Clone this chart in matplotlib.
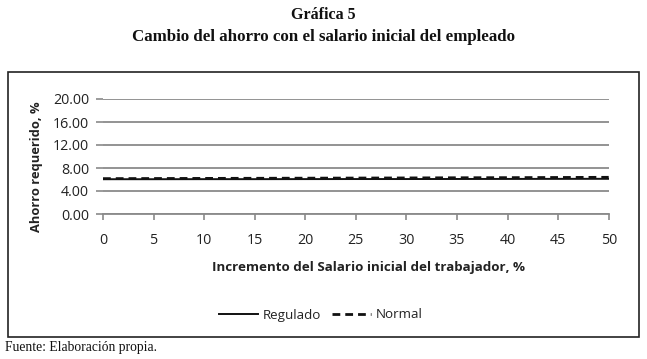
import matplotlib
matplotlib.use("Agg")
import matplotlib.pyplot as plt
from matplotlib.patches import Rectangle
from matplotlib.lines import Line2D

W, H = 647, 359
x_vals = [0, 5, 10, 15, 20, 25, 30, 35, 40, 45, 50]
regulado = [6.05, 6.05, 6.06, 6.06, 6.07, 6.08, 6.08, 6.09, 6.10, 6.11, 6.12]
normal = [6.15, 6.17, 6.19, 6.21, 6.23, 6.25, 6.27, 6.30, 6.32, 6.35, 6.38]
y_ticks = [0, 4, 8, 12, 16, 20]
x_ticks = [0, 5, 10, 15, 20, 25, 30, 35, 40, 45, 50]

title1 = "Gráfica 5"
title2 = "Cambio del ahorro con el salario inicial del empleado"
ylabel = "Ahorro requerido, %"
xlabel = "Incremento del Salario inicial del trabajador, %"
source = "Fuente: Elaboración propia."

sans = "Open Sans"
serif = "Liberation Serif"

fig = plt.figure(figsize=(W / 100, H / 100), dpi=100)

def fx(px):
    return px / W

def fy(py):
    return 1 - py / H

# outer box
fig.patches.append(Rectangle((fx(8), fy(337)), fx(639) - fx(8), fy(72) - fy(337),
                             transform=fig.transFigure, fill=False, edgecolor="#222222",
                             linewidth=1.2))

ax = fig.add_axes([fx(103), fy(214), fx(608.7) - fx(103), fy(99) - fy(214)])
ax.set_xlim(0, 50)
ax.set_ylim(0, 20)
for s in ["top", "right", "left"]:
    ax.spines[s].set_visible(False)
ax.spines["bottom"].set_color("#8a8a8a")
ax.spines["bottom"].set_linewidth(1.3)
ax.set_yticks(y_ticks)
ax.set_yticklabels([f"{v:.2f}" for v in y_ticks])
ax.set_xticks(x_ticks)
ax.set_xticklabels([str(v) for v in x_ticks])
ax.yaxis.grid(True, color="#8a8a8a", linewidth=1.3)
ax.set_axisbelow(True)
ax.tick_params(axis="y", length=5, color="#8a8a8a", width=1.2, labelsize=10.3, pad=5,
               labelcolor="#222222")
ax.tick_params(axis="x", length=4, color="#8a8a8a", width=1.2, labelsize=10.3, pad=10,
               labelcolor="#222222")
for lab in ax.get_xticklabels() + ax.get_yticklabels():
    lab.set_fontfamily(sans)

ax.plot(x_vals, regulado, color="#111111", linewidth=1.4, linestyle="-")
ax.plot(x_vals, normal, color="#111111", linewidth=2.0, linestyle=(0, (2.8, 1.8)))

fig.text(fx(37), fy(167), ylabel, rotation=90, ha="center", va="center",
         fontfamily=sans, fontweight="bold", fontsize=9.3, color="#222222")
fig.text(fx(368), fy(268), xlabel, ha="center", va="center",
         fontfamily=sans, fontweight="bold", fontsize=9.6, color="#222222")

fig.text(0.5, fy(15), title1, ha="center", va="center", fontfamily=serif,
         fontweight="bold", fontsize=11.5, color="#111111")
fig.text(0.5, fy(37), title2, ha="center", va="center", fontfamily=serif,
         fontweight="bold", fontsize=12.2, color="#111111")
fig.text(fx(5), fy(348), source, ha="left", va="center", fontfamily=serif,
         fontsize=9.8, color="#111111")

handles = [Line2D([], [], color="#111111", linewidth=1.4, linestyle="-"),
           Line2D([], [], color="#111111", linewidth=2.0, linestyle=(0, (2.8, 1.8)))]
leg = fig.legend(handles, ["Regulado", "Normal"], loc="center",
                 bbox_to_anchor=(fx(321), fy(315)), ncol=2, frameon=False,
                 prop={"family": sans, "size": 9.6}, handlelength=2.9,
                 handletextpad=0.35, columnspacing=0.85)
for t in leg.get_texts():
    t.set_color("#222222")

fig.savefig("out.png", dpi=100)
